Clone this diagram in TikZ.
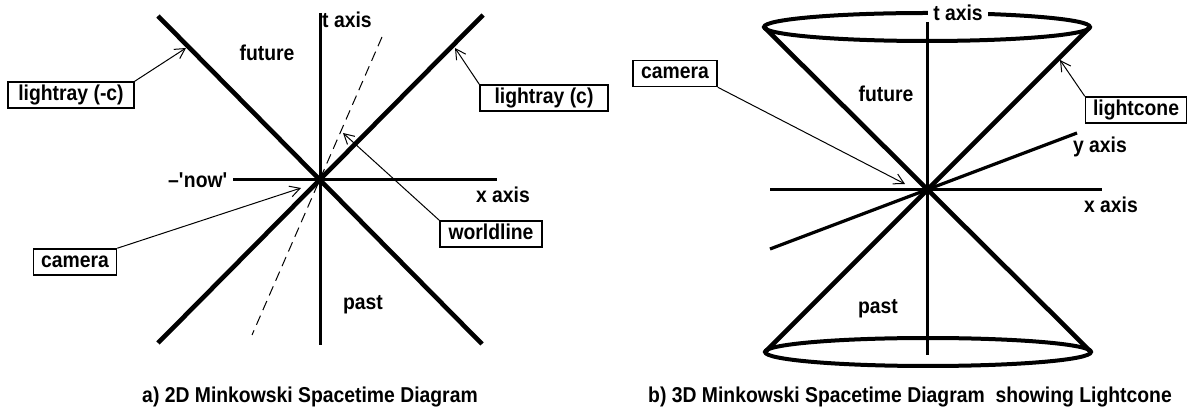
\documentclass[tikz,border=0pt]{standalone}
\usepackage{fontspec}
\setmainfont{Liberation Sans}[FakeStretch=0.9]
\usetikzlibrary{arrows.meta,shapes.geometric}
\tikzset{
  ray/.style={line width=4.6pt},
  axisln/.style={line width=3pt},
  yaxisln/.style={line width=3.2pt},
  world/.style={line width=1pt, dash pattern=on 10pt off 6pt},
  callout/.style={line width=1pt, -{Straight Barb[length=10pt,width=11pt,line width=1pt]}},
  lbl/.style={font=\bfseries\fontsize{21.5}{24}\selectfont, inner sep=0pt},
  boxlbl/.style={lbl, draw, line width=1.5pt, fill=white, text height=15.5pt, text depth=4.5pt, minimum height=26pt},
  rim/.style={ellipse, draw, line width=4pt, inner sep=0pt, outer sep=0pt, minimum width=326pt, minimum height=28pt},
}
\begin{document}
\begin{tikzpicture}[x=1pt,y=-1pt]
\useasboundingbox (0,0) rectangle (1189,411);
% ---------------- left diagram ----------------
\coordinate (O1) at (320,180);
\coordinate (tTop1) at (320,13);
\coordinate (tBot1) at (320,345);
\coordinate (xL1) at (233,180);
\coordinate (xR1) at (497,180);
\coordinate (rA1) at (158,16);
\coordinate (rA2) at (482,344);
\coordinate (rB1) at (483,15);
\coordinate (rB2) at (158,343);
\coordinate (w1) at (382,37);
\coordinate (w2) at (252,335);
\draw[axisln] (tTop1) -- (tBot1);
\draw[axisln] (xL1) -- (xR1);
\draw[ray] (rA1) -- (rA2);
\draw[ray] (rB1) -- (rB2);
\draw[world] (w1) -- (w2);

\node[lbl, anchor=west] (tlab1) at (322,20) {t axis};
\node[lbl] (fut1) at (267,53) {future};
\node[lbl] (past1) at (363,305) {past};
\node[lbl, anchor=east] (now1) at (228,180) {--\textquotesingle now\textquotesingle};
\node[lbl] (xlab1) at (503,195) {x axis};

\node[boxlbl, minimum width=126pt] (lrc) at (71,95) {lightray (-c)};
\node[boxlbl, minimum width=128pt] (lrp) at (544,98) {lightray (c)};
\node[boxlbl, minimum width=102pt] (wl) at (491,234) {worldline};
\node[boxlbl, minimum width=83pt] (camL) at (75,262) {camera};

\coordinate (tLrc) at (186,48);
\coordinate (tLrp) at (455,48);
\coordinate (tWl) at (343,133);
\coordinate (tCamL) at (301,188);
\draw[callout] (lrc.north east) -- (tLrc);
\draw[callout] (lrp.north west) -- (tLrp);
\draw[callout] (wl.north west) -- (tWl);
\draw[callout] (camL.north east) -- (tCamL);

% ---------------- right diagram ----------------
\coordinate (O2) at (927,190);
\node[rim] (topRim) at (927,27) {};
\node[rim] (botRim) at (928,352) {};
\node[lbl, fill=white, inner xsep=5pt, inner ysep=0pt] (tlab2) at (958,13) {t axis};
\coordinate (tTop2) at (927,22);
\coordinate (tBot2) at (927,355);
\coordinate (xL2) at (770,190);
\coordinate (xR2) at (1102,190);
\coordinate (yA2) at (770,249);
\coordinate (yB2) at (1077,133);
\draw[axisln] (tTop2) -- (tBot2);
\draw[axisln] (xL2) -- (xR2);
\draw[yaxisln] (yA2) -- (yB2);
\draw[ray] (topRim.west) -- (botRim.east);
\draw[ray] (topRim.east) -- (botRim.west);

\node[lbl] (fut2) at (886,94) {future};
\node[lbl] (past2) at (878,309) {past};
\node[lbl] (ylab2) at (1100,147) {y axis};
\node[lbl] (xlab2) at (1111,205) {x axis};

\node[boxlbl, minimum width=84pt] (camR) at (675,73.5) {camera};
\node[boxlbl, minimum width=101pt] (lcone) at (1136,110) {lightcone};
\coordinate (tCamR) at (905,184);
\coordinate (tCone) at (1060,60);
\draw[callout] (camR.south east) -- (tCamR);
\draw[callout] (lcone.north west) -- (tCone);

% ---------------- captions ----------------
\node[lbl] (capA) at (310,397) {a) 2D Minkowski Spacetime Diagram};
\node[lbl] (capB) at (910,397) {b) 3D Minkowski Spacetime Diagram\ \ showing Lightcone};
\end{tikzpicture}
\end{document}
